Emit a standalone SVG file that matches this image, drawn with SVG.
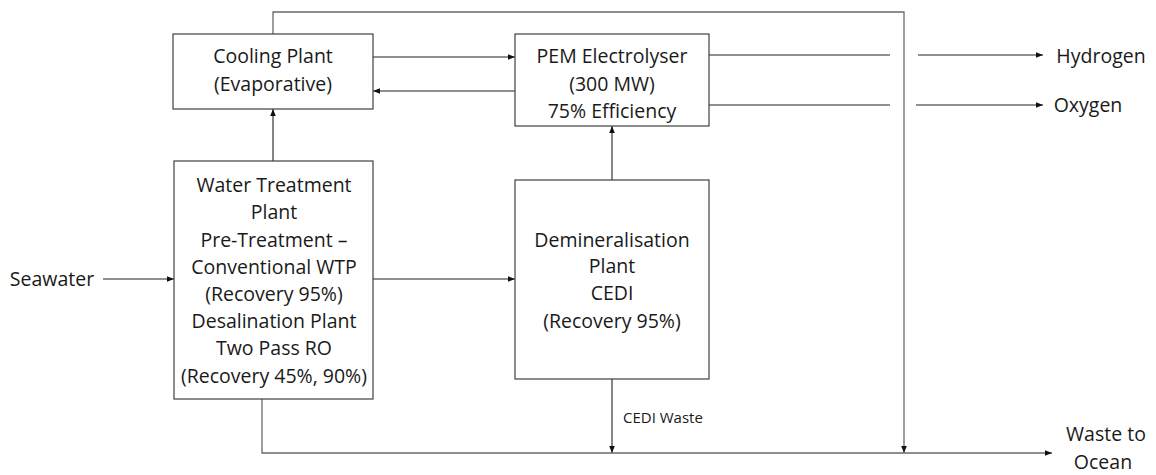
<svg xmlns="http://www.w3.org/2000/svg" width="1156" height="475" viewBox="0 0 1156 475">
<style>
.box{fill:#fff;stroke:#404040;stroke-width:1.2}
.ln{fill:none;stroke:#222;stroke-width:1.1}
.gl{fill:none;stroke:#6a6a6a;stroke-width:1.3}
.t{font-family:"Open Sans","Liberation Sans",sans-serif;font-size:19.5px;fill:#1a1a1a;text-anchor:middle}
.s{font-family:"Open Sans","Liberation Sans",sans-serif;font-size:15px;fill:#1a1a1a}
</style>
<defs>
<marker id="ah" viewBox="0 0 8 8" refX="8" refY="4" markerWidth="7" markerHeight="7" markerUnits="userSpaceOnUse" orient="auto">
<path d="M0,0.8 L8,4 L0,7.2 Z" fill="#111"/>
</marker>
</defs>
<rect width="1156" height="475" fill="#fff"/>
<g id="connectors">
<path class="gl" d="M273,34 V12 H904 V453" marker-end="url(#ah)"/>
<path class="ln" d="M373,57 H515" marker-end="url(#ah)"/>
<path class="ln" d="M515,91 H373" marker-end="url(#ah)"/>
<path class="ln" d="M709,55 H890"/>
<path class="ln" d="M709,105 H890"/>
<path class="ln" d="M918,55 H1043" marker-end="url(#ah)"/>
<path class="ln" d="M916,105 H1043" marker-end="url(#ah)"/>
<path class="ln" d="M273,161 V109" marker-end="url(#ah)"/>
<path class="ln" d="M103,279 H174" marker-end="url(#ah)"/>
<path class="ln" d="M373,279 H515" marker-end="url(#ah)"/>
<path class="ln" d="M612,180 V126" marker-end="url(#ah)"/>
<path class="ln" d="M612,379 V453" marker-end="url(#ah)"/>
<path class="gl" d="M262,399 V453 H1052" marker-end="url(#ah)"/>
</g>
<g id="cooling">
<rect class="box" x="173" y="34" width="200" height="75"/>
<text class="t" x="273" y="63">Cooling Plant</text>
<text class="t" x="273" y="91">(Evaporative)</text>
</g>
<g id="pem">
<rect class="box" x="515" y="34" width="194" height="92"/>
<text class="t" x="612" y="63">PEM Electrolyser</text>
<text class="t" x="612" y="91">(300 MW)</text>
<text class="t" x="612" y="118">75% Efficiency</text>
</g>
<g id="wtp">
<rect class="box" x="174" y="161" width="199" height="238"/>
<text class="t" x="274" y="192">Water Treatment</text>
<text class="t" x="274" y="219">Plant</text>
<text class="t" x="274" y="247">Pre-Treatment –</text>
<text class="t" x="274" y="274">Conventional WTP</text>
<text class="t" x="274" y="301">(Recovery 95%)</text>
<text class="t" x="274" y="328">Desalination Plant</text>
<text class="t" x="274" y="355">Two Pass RO</text>
<text class="t" x="274" y="383">(Recovery 45%, 90%)</text>
</g>
<g id="demin">
<rect class="box" x="515" y="180" width="194" height="199"/>
<text class="t" x="612" y="247">Demineralisation</text>
<text class="t" x="612" y="273">Plant</text>
<text class="t" x="612" y="300">CEDI</text>
<text class="t" x="612" y="328">(Recovery 95%)</text>
</g>
<g id="labels">
<text class="t" x="52" y="286">Seawater</text>
<text class="t" x="1101" y="63">Hydrogen</text>
<text class="t" x="1088" y="112">Oxygen</text>
<text class="s" x="623" y="423">CEDI Waste</text>
<text class="t" x="1106" y="441">Waste to</text>
<text class="t" x="1103" y="468.5">Ocean</text>
</g>
</svg>
